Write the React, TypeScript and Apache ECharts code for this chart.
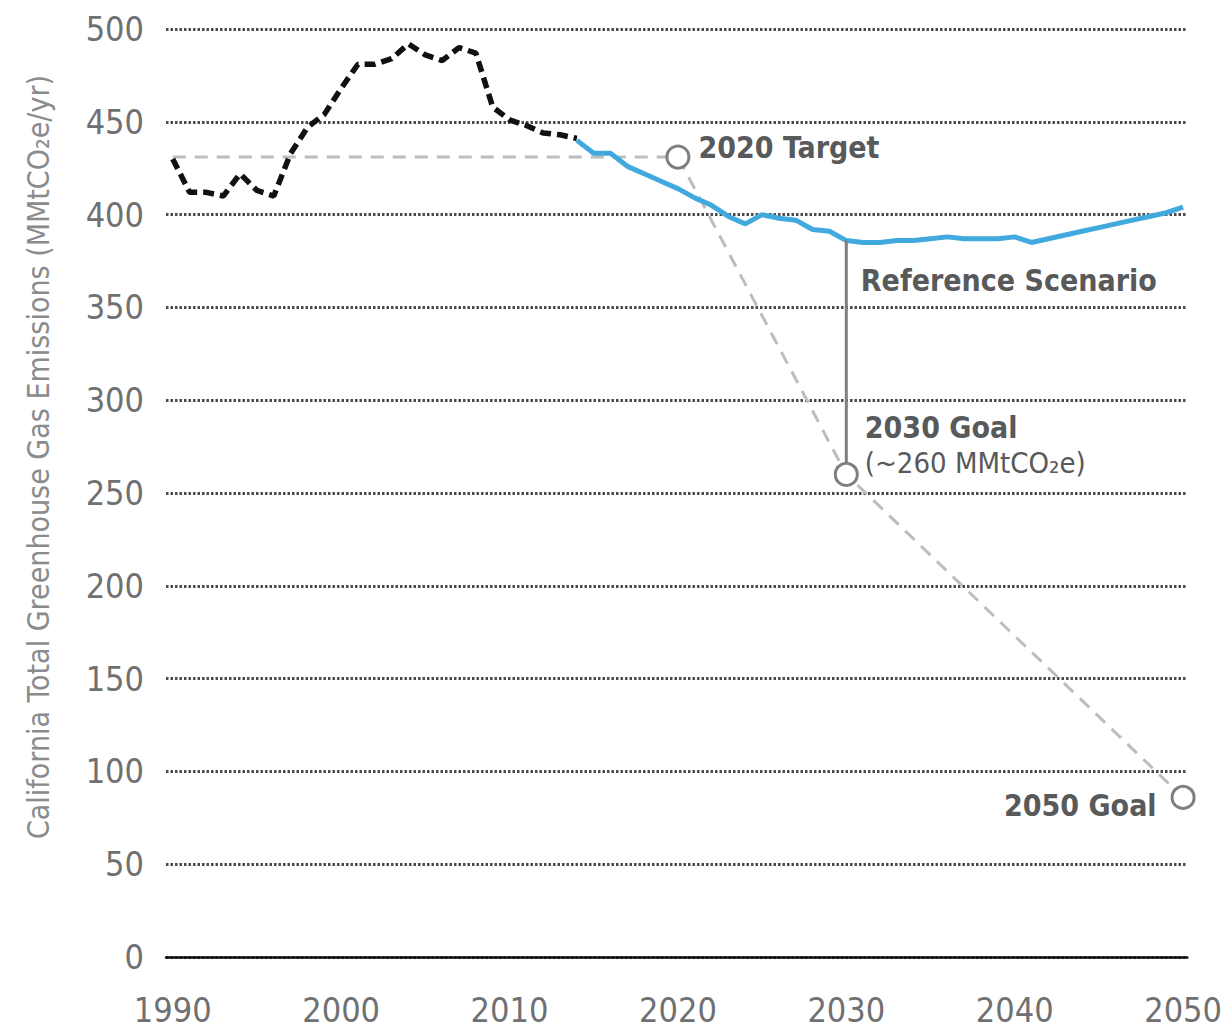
import { useEffect, useRef } from "react";
import * as echarts from "echarts";

const histYears = [1990, 1991, 1992, 1993, 1994, 1995, 1996, 1997, 1998, 1999, 2000, 2001, 2002, 2003, 2004, 2005, 2006, 2007, 2008, 2009, 2010, 2011, 2012, 2013, 2014];
const histValues = [430, 412, 412, 410, 422, 413, 410, 433, 447, 454, 468, 481, 481, 484, 492, 486, 483, 490, 487, 458, 451, 448, 444, 443, 441];

const projYears = [2014, 2015, 2016, 2017, 2018, 2019, 2020, 2021, 2022, 2023, 2024, 2025, 2026, 2027, 2028, 2029, 2030, 2031, 2032, 2033, 2034, 2035, 2036, 2037, 2038, 2039, 2040, 2041, 2042, 2043, 2044, 2045, 2046, 2047, 2048, 2049, 2050];
const projValues = [440, 433, 433, 426, 422, 418, 414, 409, 405, 399, 395, 400, 398, 397, 392, 391, 386, 385, 385, 386, 386, 387, 388, 387, 387, 387, 388, 385, 387, 389, 391, 393, 395, 397, 399, 401, 404];

const targetYears = [1990, 2020, 2030, 2050];
const targetValues = [431, 431, 260, 86];

const goalYears = [2020, 2030, 2050];
const goalValues = [431, 260, 86];

const refGapYears = [2030, 2030];
const refGapValues = [386, 260];

const xTickLabels = [1990, 2000, 2010, 2020, 2030, 2040, 2050];

const FONT = "'Liberation Sans Narrow', 'DejaVu Sans Condensed', 'Roboto Condensed', Roboto, sans-serif";
const AXIS_GRAY = "#6f7072";
const TEXT_GRAY = "#58595b";

export default function App() {
  const ref = useRef<HTMLDivElement>(null);
  useEffect(() => {
    const chart = echarts.init(ref.current!, null, { renderer: "svg" });
    const zip = (xs: number[], ys: number[]) => xs.map((x, i) => [x, ys[i]]);

    const boldLabel = {
      fontFamily: FONT,
      fontWeight: "bold",
      fontSize: 30,
      color: TEXT_GRAY,
    };

    const goalData = zip(goalYears, goalValues).map((v, i) => {
      if (i === 0) {
        return {
          value: v,
          label: { show: true, position: "right", distance: 8, offset: [0, -10], formatter: "2020 Target", ...boldLabel },
        };
      }
      if (i === 1) {
        return {
          value: v,
          label: {
            show: true,
            position: "right",
            distance: 6,
            offset: [0, -29],
            formatter: "{b|2030 Goal}\n{n|(~260 MMtCO₂e)}",
            rich: {
              b: { ...boldLabel, lineHeight: 36 },
              n: { fontFamily: FONT, fontWeight: "normal", fontSize: 29, color: TEXT_GRAY, lineHeight: 36 },
            },
          },
        };
      }
      return {
        value: v,
        label: { show: true, position: "left", distance: 14, offset: [0, 8], formatter: "2050 Goal", ...boldLabel },
      };
    });

    // label anchored on the top end of the reference-scenario gap bar
    const refLabelData = zip(refGapYears.slice(0, 1), refGapValues.slice(0, 1)).map((v) => ({
      value: v,
      label: { show: true, position: "right", distance: 14, offset: [0, 40], formatter: "Reference Scenario", ...boldLabel },
    }));

    chart.setOption({
      animation: false,
      backgroundColor: "#ffffff",
      grid: { left: 166, right: 37, top: 29, bottom: 74, containLabel: false },
      xAxis: {
        type: "value",
        min: 1989.6,
        max: 2050.25,
        splitLine: { show: false },
        axisTick: { show: false },
        axisLine: { show: true, lineStyle: { color: "#111", width: 2.5 } },
        axisLabel: {
          customValues: xTickLabels,
          margin: 36,
          fontFamily: FONT,
          fontSize: 34,
          color: AXIS_GRAY,
          formatter: (v: number) => String(v),
        },
      },
      yAxis: {
        type: "value",
        min: 0,
        max: 500,
        interval: 50,
        axisLine: { show: false },
        axisTick: { show: false },
        axisLabel: { margin: 22, fontFamily: FONT, fontSize: 34, color: AXIS_GRAY },
        splitLine: { show: true, lineStyle: { color: "#4a4a4a", width: 3, type: [2.5, 2] } },
      },
      graphic: [
        {
          type: "text",
          x: 38,
          y: 457,
          rotation: Math.PI / 2,
          style: {
            text: "California Total Greenhouse Gas Emissions (MMtCO₂e/yr)",
            fontFamily: FONT,
            fontSize: 30,
            fill: "#8a8b8d",
            textAlign: "center",
            textVerticalAlign: "middle",
          },
        },
      ],
      series: [
        {
          type: "line",
          name: "Target path",
          data: zip(targetYears, targetValues),
          symbol: "none",
          lineStyle: { color: "#bdbdbd", width: 3, type: [13, 9] },
          z: 2,
        },
        {
          type: "line",
          name: "Historical",
          data: zip(histYears, histValues),
          symbol: "none",
          lineStyle: { color: "#111", width: 5.5, type: [11, 6] },
          z: 3,
        },
        {
          type: "line",
          name: "Reference Scenario",
          data: zip(projYears, projValues),
          symbol: "none",
          lineStyle: { color: "#41a9de", width: 5 },
          z: 3,
        },
        {
          type: "line",
          name: "Gap",
          data: zip(refGapYears, refGapValues),
          symbol: "none",
          lineStyle: { color: "#7f7f7f", width: 3 },
          z: 4,
        },
        {
          type: "scatter",
          name: "Gap label",
          data: refLabelData,
          symbol: "circle",
          symbolSize: 1,
          itemStyle: { color: "#7f7f7f", opacity: 1 },
          z: 4,
        },
        {
          type: "scatter",
          name: "Goals",
          data: goalData,
          symbol: "circle",
          symbolSize: 22,
          itemStyle: { color: "#ffffff", borderColor: "#7f7f7f", borderWidth: 3, opacity: 1 },
          z: 5,
        },
      ],
    });
    return () => chart.dispose();
  }, []);
  return <div ref={ref} style={{ position: "absolute", left: 0, top: 0, width: 1225, height: 1031 }} />;
}
